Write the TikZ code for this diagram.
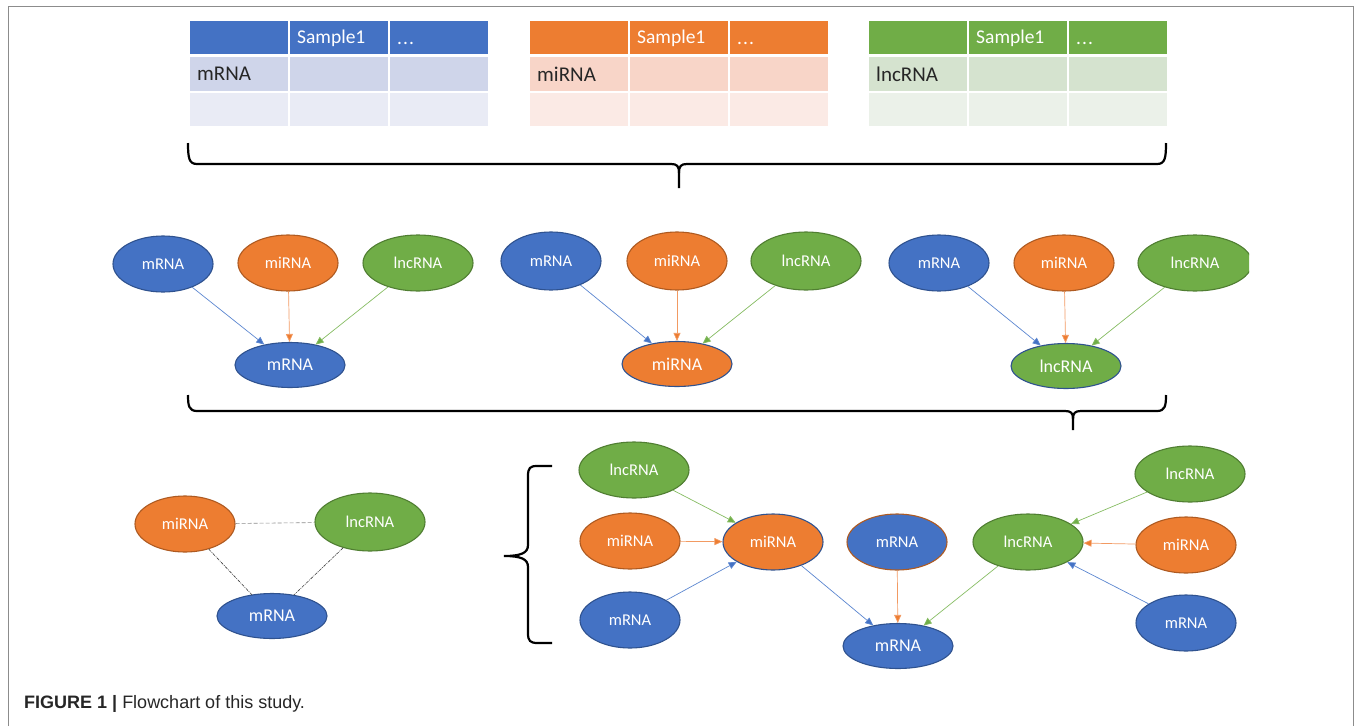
\documentclass[tikz,border=0pt]{standalone}
\usepackage{fontspec}
\setmainfont{Carlito}
\newfontfamily\capfont{Liberation Sans}
\usetikzlibrary{shapes.geometric,arrows.meta}
\definecolor{cblue}{HTML}{4472C4}
\definecolor{cblueD}{HTML}{2F528F}
\definecolor{corange}{HTML}{ED7D31}
\definecolor{corangeD}{HTML}{AE5A21}
\definecolor{cgreen}{HTML}{70AD47}
\definecolor{cgreenD}{HTML}{507E32}
\definecolor{tbA}{HTML}{CFD5EA}
\definecolor{tbB}{HTML}{E9EBF5}
\definecolor{toA}{HTML}{F8D5C8}
\definecolor{toB}{HTML}{FBEAE5}
\definecolor{tgA}{HTML}{D5E3CF}
\definecolor{tgB}{HTML}{EBF1E9}
\definecolor{lblue}{HTML}{5B86D0}
\definecolor{lorange}{HTML}{F29A62}
\definecolor{lgreen}{HTML}{86BC62}
\begin{document}
\begin{tikzpicture}[x=1pt,y=-1pt,
  ell/.style={ellipse, inner sep=0pt, minimum width=100pt, minimum height=56pt, line width=1.1pt, text=white, font=\fontsize{16.5}{16.5}\selectfont},
  bl/.style={ell, fill=cblue, draw=cblueD},
  orn/.style={ell, fill=corange, draw=corangeD},
  gr/.style={ell, fill=cgreen, draw=cgreenD},
  wide/.style={minimum width=110pt},
  big/.style={minimum width=110pt, minimum height=45pt, font=\fontsize{18}{18}\selectfont},
  cell/.style={rectangle, inner sep=0pt, minimum width=98pt, draw=none},
  hdr/.style={text=white, font=\fontsize{19.5}{19.5}\selectfont, anchor=west, inner sep=0pt},
  lab/.style={text=black!85, font=\fontsize{21}{21}\selectfont, anchor=west, inner sep=0pt},
  ab/.style={draw=lblue, line width=0.7pt, -{Triangle[length=8pt,width=7pt,fill=cblue]}},
  ao/.style={draw=lorange, line width=0.7pt, -{Triangle[length=8pt,width=7pt,fill=corange]}},
  ag/.style={draw=lgreen, line width=0.7pt, -{Triangle[length=8pt,width=7pt,fill=cgreen]}},
  dl/.style={line width=0.6pt, draw=black!75, dash pattern=on 3pt off 1pt on 1pt off 1pt},
  dg/.style={line width=0.6pt, draw=black!45, dash pattern=on 4pt off 2pt},
  brace/.style={line width=2.2pt, draw=black}
]
\useasboundingbox (0,0) rectangle (1355,726);
% frame
\draw[draw=black!45, line width=1pt] (8,726) -- (8,6) -- (1353,6) -- (1353,726);

% tables
\foreach \off/\h/\la/\lb/\lt/\nm in {0/cblue/tbA/tbB/mRNA/a, 340/corange/toA/toB/miRNA/b, 679/cgreen/tgA/tgB/lncRNA/c} {
  \foreach \cx/\ci in {239/1,339/2,438.5/3} {
    \node[cell, fill=\h, minimum height=33pt] (\nm h\ci) at (\cx+\off, 37.5) {};
    \node[cell, fill=\la, minimum height=34pt] (\nm m\ci) at (\cx+\off, 74) {};
    \node[cell, fill=\lb, minimum height=33pt] (\nm l\ci) at (\cx+\off, 109.5) {};
  }
  \node[hdr] (\nm s) at (297+\off, 38) {Sample1};
  \node[hdr, anchor=base west] (\nm d) at (397+\off, 44) {.\kern1pt.\kern1pt.};
  \node[lab] (\nm n) at (197+\off, 74) {\lt};
}

% brace 1
\draw[brace] (188,143) .. controls (188,158) and (189,164) .. (197,164) -- (671,164)
  .. controls (677,164) and (679,166) .. (679,173) -- (679,188);
\draw[brace] (1166,143) .. controls (1166,158) and (1165,164) .. (1157,164) -- (687,164)
  .. controls (681,164) and (679,166) .. (679,173);
% brace 2
\draw[brace] (188,395) .. controls (188,406) and (189,411) .. (197,411) -- (1065,411)
  .. controls (1071,411) and (1073,413) .. (1073,419) -- (1073,430);
\draw[brace] (1166,395) .. controls (1166,406) and (1165,411) .. (1157,411) -- (1081,411)
  .. controls (1075,411) and (1073,413) .. (1073,419);
% brace 3
\draw[brace] (552,466) -- (537,466) .. controls (530,466) and (528,468) .. (528,476) -- (528,545)
  .. controls (528,553) and (521,556) .. (504,556)
  .. controls (521,556) and (528,559) .. (528,567) -- (528,633)
  .. controls (528,641) and (530,643) .. (538,643) -- (552,643);

% group 1
\node[bl] (m1) at (163,264) {mRNA};
\node[orn] (i1) at (288,263) {miRNA};
\node[gr, wide] (l1) at (418,263) {lncRNA};
\node[bl, big] (t1) at (290,365) {mRNA};
\draw[ab] (m1) -- (t1);
\draw[ao] (i1) -- (t1);
\draw[ag] (l1) -- (t1);

% group 2
\node[bl, minimum height=58pt] (m2) at (551,261) {mRNA};
\node[orn, minimum height=58pt] (i2) at (677,261) {miRNA};
\node[gr, wide, minimum height=58pt] (l2) at (806,261) {lncRNA};
\node[orn, big, draw=cblueD] (t2) at (677,364) {miRNA};
\draw[ab] (m2) -- (t2);
\draw[ao] (i2) -- (t2);
\draw[ag] (l2) -- (t2);

% group 3
\node[bl] (m3) at (939,263) {mRNA};
\node[orn] (i3) at (1064,263) {miRNA};
\begin{scope}
\clip (0,0) rectangle (1249,726);
\node[gr, minimum width=114pt] (l3) at (1195,263) {lncRNA};
\end{scope}
\node[gr, big, draw=cblueD] (t3) at (1066,366) {lncRNA};
\draw[ab] (m3) -- (t3);
\draw[ao] (i3) -- (t3);
\draw[ag] (l3) -- (t3);

% triangle
\node[orn] (ti) at (185,524) {miRNA};
\node[gr, wide, minimum height=58pt] (tl) at (370,522) {lncRNA};
\node[bl, big] (tm) at (272,616) {mRNA};
\draw[dg] (ti) -- (tl);
\draw[dl] (ti) -- (tm);
\draw[dl] (tl) -- (tm);

% network
\node[gr, wide] (nl1) at (634,470) {lncRNA};
\node[orn] (ni1) at (630,541) {miRNA};
\node[bl] (nm1) at (630,620) {mRNA};
\node[orn, draw=cblueD] (nc) at (773,542) {miRNA};
\node[bl, draw=corangeD] (nmo) at (897,542) {mRNA};
\node[bl, big] (nb) at (898,646) {mRNA};
\node[gr, wide] (nlc) at (1028,542) {lncRNA};
\node[gr, wide] (nl2) at (1190,474) {lncRNA};
\node[orn] (ni2) at (1186,545) {miRNA};
\node[bl] (nm2) at (1186,623) {mRNA};
\draw[ag] (nl1) -- (nc);
\draw[ao] (ni1) -- (nc);
\draw[ab] (nm1) -- (nc);
\draw[ab] (nc) -- (nb);
\draw[ao] (nmo) -- (nb);
\draw[ag] (nlc) -- (nb);
\draw[ag] (nl2) -- (nlc);
\draw[ao] (ni2) -- (nlc);
\draw[ab] (nm2) -- (nlc);

% caption
\node[anchor=base west, inner sep=0pt, font=\capfont\fontsize{18}{18}\selectfont, text=black!85] (cap) at (24,708)
  {\textbf{FIGURE 1 |} Flowchart of this study.};
\end{tikzpicture}
\end{document}
